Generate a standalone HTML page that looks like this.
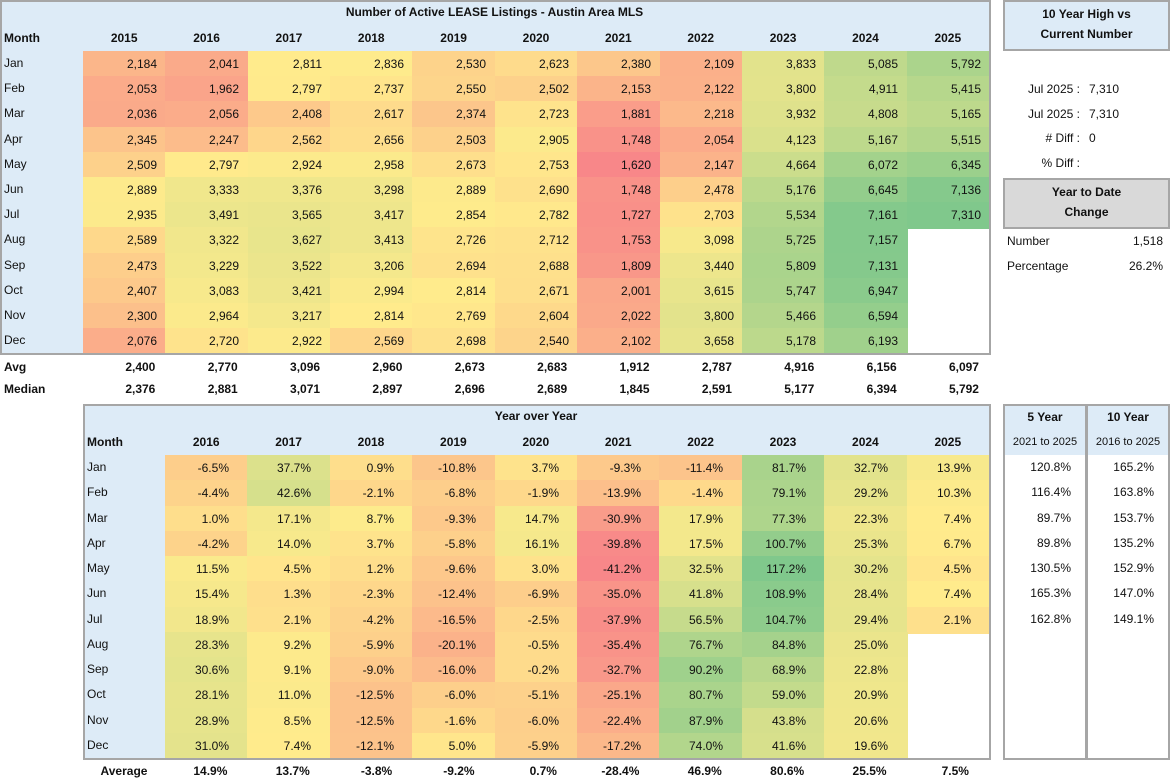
<!DOCTYPE html>
<html><head><meta charset="utf-8"><style>
body{margin:0;width:1170px;height:779px;background:#fff;font-family:"Liberation Sans",sans-serif;font-size:12px;color:#111;position:relative;overflow:hidden}
.c{position:absolute;box-sizing:border-box;white-space:nowrap;line-height:25px}
.r{text-align:right}.m{text-align:center}.b{font-weight:bold}
.box{position:absolute;box-sizing:border-box;border:2px solid #a6a6a6}
</style></head><body>
<script>
(function(){
var R=document.body;
function cell(x,y,w,h,t,cls,bg){var d=document.createElement('div');d.className='c '+(cls||'');d.style.left=x+'px';d.style.top=y+'px';d.style.width=w+'px';d.style.height=h+'px';d.style.lineHeight=h+'px';if(bg)d.style.background=bg;d.textContent=t;R.appendChild(d);return d;}
function box(x,y,w,h,bg){var d=document.createElement('div');d.className='box';d.style.left=x+'px';d.style.top=y+'px';d.style.width=w+'px';d.style.height=h+'px';if(bg)d.style.background=bg;R.appendChild(d);return d;}
var RED=[248,135,137],YEL=[255,235,140],GRN=[128,200,140];
function mix(a,b,t){return 'rgb('+a.map(function(v,i){return Math.round(v+(b[i]-v)*t)}).join(',')+')';}
function scale(v,mn,md,mx){return v<=md?mix(RED,YEL,(v-mn)/(md-mn)):mix(YEL,GRN,(v-md)/(mx-md));}
function median(a){a=a.slice().sort(function(x,y){return x-y});var n=a.length;return n%2?a[(n-1)/2]:(a[n/2-1]+a[n/2])/2;}
function fmt(v){return String(v).replace(/\B(?=(\d{3})+(?!\d))/g,',');}
var months=['Jan','Feb','Mar','Apr','May','Jun','Jul','Aug','Sep','Oct','Nov','Dec'];
var BLUE='#ddebf7';
var topData=[
[2184,2041,2811,2836,2530,2623,2380,2109,3833,5085,5792],
[2053,1962,2797,2737,2550,2502,2153,2122,3800,4911,5415],
[2036,2056,2408,2617,2374,2723,1881,2218,3932,4808,5165],
[2345,2247,2562,2656,2503,2905,1748,2054,4123,5167,5515],
[2509,2797,2924,2958,2673,2753,1620,2147,4664,6072,6345],
[2889,3333,3376,3298,2889,2690,1748,2478,5176,6645,7136],
[2935,3491,3565,3417,2854,2782,1727,2703,5534,7161,7310],
[2589,3322,3627,3413,2726,2712,1753,3098,5725,7157,null],
[2473,3229,3522,3206,2694,2688,1809,3440,5809,7131,null],
[2407,3083,3421,2994,2814,2671,2001,3615,5747,6947,null],
[2300,2964,3217,2814,2769,2604,2022,3800,5466,6594,null],
[2076,2720,2922,2569,2698,2540,2102,3658,5178,6193,null]];
var all=[];topData.forEach(function(r){r.forEach(function(v){if(v!=null)all.push(v)})});
var mn=Math.min.apply(null,all),mx=Math.max.apply(null,all),md=median(all);
var cw=906/11,rh=25.2,i,j,d,v,x,y;
cell(0,0,989,51,'',"",BLUE);
cell(0,0,989,25,'Number of Active LEASE Listings - Austin Area MLS','m b');
cell(4,25,80,26,'Month','b');
for(j=0;j<11;j++)cell(83+j*cw,25,cw,26,String(2015+j),'m b');
cell(0,51,83,302,'','',BLUE);
for(i=0;i<12;i++){y=51+i*rh;cell(4,y,79,rh,months[i],'');
 for(j=0;j<11;j++){v=topData[i][j];x=83+j*cw;
  if(v==null)continue;d=cell(Math.round(x),Math.round(y),Math.ceil(cw)+1,Math.ceil(rh)+1,fmt(v),'r',scale(v,mn,md,mx));d.style.paddingRight='10px';}}
box(0,0,991,355);
var avg=[2400,2770,3096,2960,2673,2683,1912,2787,4916,6156,6097],med=[2376,2881,3071,2897,2696,2689,1845,2591,5177,6394,5792];
cell(4,356,80,22,'Avg','b');cell(4,378,80,22,'Median','b');
for(j=0;j<11;j++){d=cell(83+j*cw,356,cw,22,fmt(avg[j]),'r b');d.style.paddingRight='10px';d=cell(83+j*cw,378,cw,22,fmt(med[j]),'r b');d.style.paddingRight='10px';}
box(1003,0,167,51,BLUE);cell(1003,4,167,20,'10 Year High vs','m b');cell(1003,24,167,20,'Current Number','m b');
[['Jul 2025 :','7,310',89],['Jul 2025 :','7,310',114],['# Diff :','0',138],['% Diff :','',163]].forEach(function(a){cell(1003,a[2]-12,77,25,a[0],'r');cell(1089,a[2]-12,70,25,a[1],'');});
box(1003,178,167,51,'#d9d9d9');cell(1003,182,167,20,'Year to Date','m b');cell(1003,202,167,20,'Change','m b');
cell(1007,229,80,25,'Number','');cell(1090,229,73,25,'1,518','r');
cell(1007,254,80,25,'Percentage','');cell(1090,254,73,25,'26.2%','r');
var yoy=[
[-6.5,37.7,0.9,-10.8,3.7,-9.3,-11.4,81.7,32.7,13.9],
[-4.4,42.6,-2.1,-6.8,-1.9,-13.9,-1.4,79.1,29.2,10.3],
[1.0,17.1,8.7,-9.3,14.7,-30.9,17.9,77.3,22.3,7.4],
[-4.2,14.0,3.7,-5.8,16.1,-39.8,17.5,100.7,25.3,6.7],
[11.5,4.5,1.2,-9.6,3.0,-41.2,32.5,117.2,30.2,4.5],
[15.4,1.3,-2.3,-12.4,-6.9,-35.0,41.8,108.9,28.4,7.4],
[18.9,2.1,-4.2,-16.5,-2.5,-37.9,56.5,104.7,29.4,2.1],
[28.3,9.2,-5.9,-20.1,-0.5,-35.4,76.7,84.8,25.0,null],
[30.6,9.1,-9.0,-16.0,-0.2,-32.7,90.2,68.9,22.8,null],
[28.1,11.0,-12.5,-6.0,-5.1,-25.1,80.7,59.0,20.9,null],
[28.9,8.5,-12.5,-1.6,-6.0,-22.4,87.9,43.8,20.6,null],
[31.0,7.4,-12.1,5.0,-5.9,-17.2,74.0,41.6,19.6,null]];
var a2=[];yoy.forEach(function(r){r.forEach(function(v){if(v!=null)a2.push(v)})});
var mn2=Math.min.apply(null,a2),mx2=Math.max.apply(null,a2),md2=median(a2);
var by=404,rh2=25.25,cw2=824/10;
cell(83,by,906,51,'','',BLUE);
cell(83,by,906,25,'Year over Year','m b');
cell(87,by+26,78,25,'Month','b');
for(j=0;j<10;j++)cell(165+j*cw2,by+26,cw2,25,String(2016+j),'m b');
cell(83,455,82,303,'','',BLUE);
for(i=0;i<12;i++){y=455+i*rh2;cell(87,y,78,rh2,months[i],'');
 for(j=0;j<10;j++){v=yoy[i][j];if(v==null)continue;x=165+j*cw2;
  d=cell(Math.round(x),Math.round(y),Math.ceil(cw2)+1,Math.ceil(rh2)+1,v.toFixed(1)+'%','r',scale(v,mn2,md2,mx2));d.style.paddingRight='20px';}}
box(83,404,908,356);
cell(83,760,82,22,'Average','m b');
var av=[14.9,13.7,-3.8,-9.2,0.7,-28.4,46.9,80.6,25.5,7.5];
for(j=0;j<10;j++){d=cell(165+j*cw2,760,cw2,22,av[j].toFixed(1)+'%','r b');d.style.paddingRight='20px';}
var f5=[120.8,116.4,89.7,89.8,130.5,165.3,162.8],f10=[165.2,163.8,153.7,135.2,152.9,147.0,149.1];
[[1003,'5 Year','2021 to 2025',f5],[1086,'10 Year','2016 to 2025',f10]].forEach(function(q){
 var x=q[0];cell(x,404,84,51,'','',BLUE);
 cell(x,405,84,25,q[1],'m b');var d=cell(x,430,84,25,q[2],'m');d.style.fontSize='11px';
 q[3].forEach(function(v,i){var d=cell(x,455+i*rh2,84,rh2,v.toFixed(1)+'%','r');d.style.paddingRight='16px';});
 box(x,404,84,356);
});
})();
</script>
</body></html>
